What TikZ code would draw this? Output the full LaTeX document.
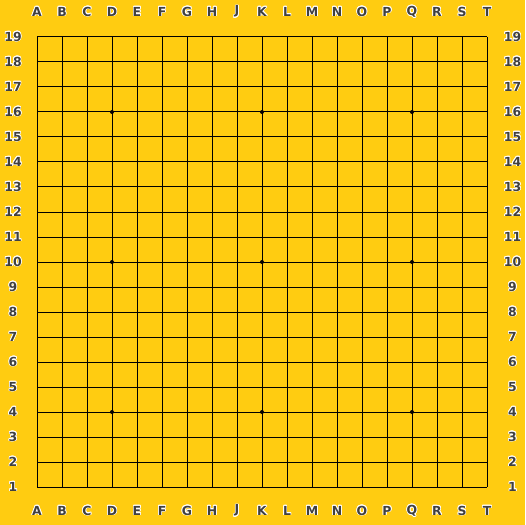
\documentclass[tikz,border=0pt]{standalone}
\usepackage{fontspec}
\setmainfont{DejaVu Sans}
\usepackage[copies]{contour}
\contourlength{0.7pt}
\definecolor{board}{HTML}{FFCC11}
\definecolor{coordtxt}{HTML}{404040}
\tikzset{
  gridline/.style={black,line width=1bp},
  hoshi/.style={circle,fill=black,inner sep=0pt,minimum size=4bp},
  coordlbl/.style={font=\bfseries\fontsize{12.5}{14}\selectfont,text=coordtxt,inner sep=0pt}
}
\begin{document}
\begin{tikzpicture}[x=1bp,y=-1bp]
  % board
  \fill[board] (0,0) rectangle (525,525);
  \useasboundingbox (0,0) rectangle (525,525);
  % lines
  \foreach \i in {0,...,18} {
    \draw[gridline] (37+25*\i,37) -- (37+25*\i,487);
    \draw[gridline] (37,37+25*\i) -- (487,37+25*\i);
  }
  % star points
  \foreach \c in {3,9,15}
    \foreach \r in {3,9,15}
      \node[hoshi] (star-\c-\r) at (37+25*\c,37+25*\r) {};
  % column letters
  \foreach \l [count=\i from 0] in {A,B,C,D,E,F,G,H,J,K,L,M,N,O,P,Q,R,S,T} {
    \node[coordlbl] (top-\l) at (37+25*\i,12) {\contour{white}{\l}};
    \node[coordlbl] (bot-\l) at (37+25*\i,511) {\contour{white}{\l}};
  }
  % row numbers
  \foreach \n in {1,...,19} {
    \node[coordlbl] (left-\n) at (13,512-25*\n) {\contour{white}{\n}};
    \node[coordlbl] (right-\n) at (512.5,512-25*\n) {\contour{white}{\n}};
  }
\end{tikzpicture}
\end{document}
